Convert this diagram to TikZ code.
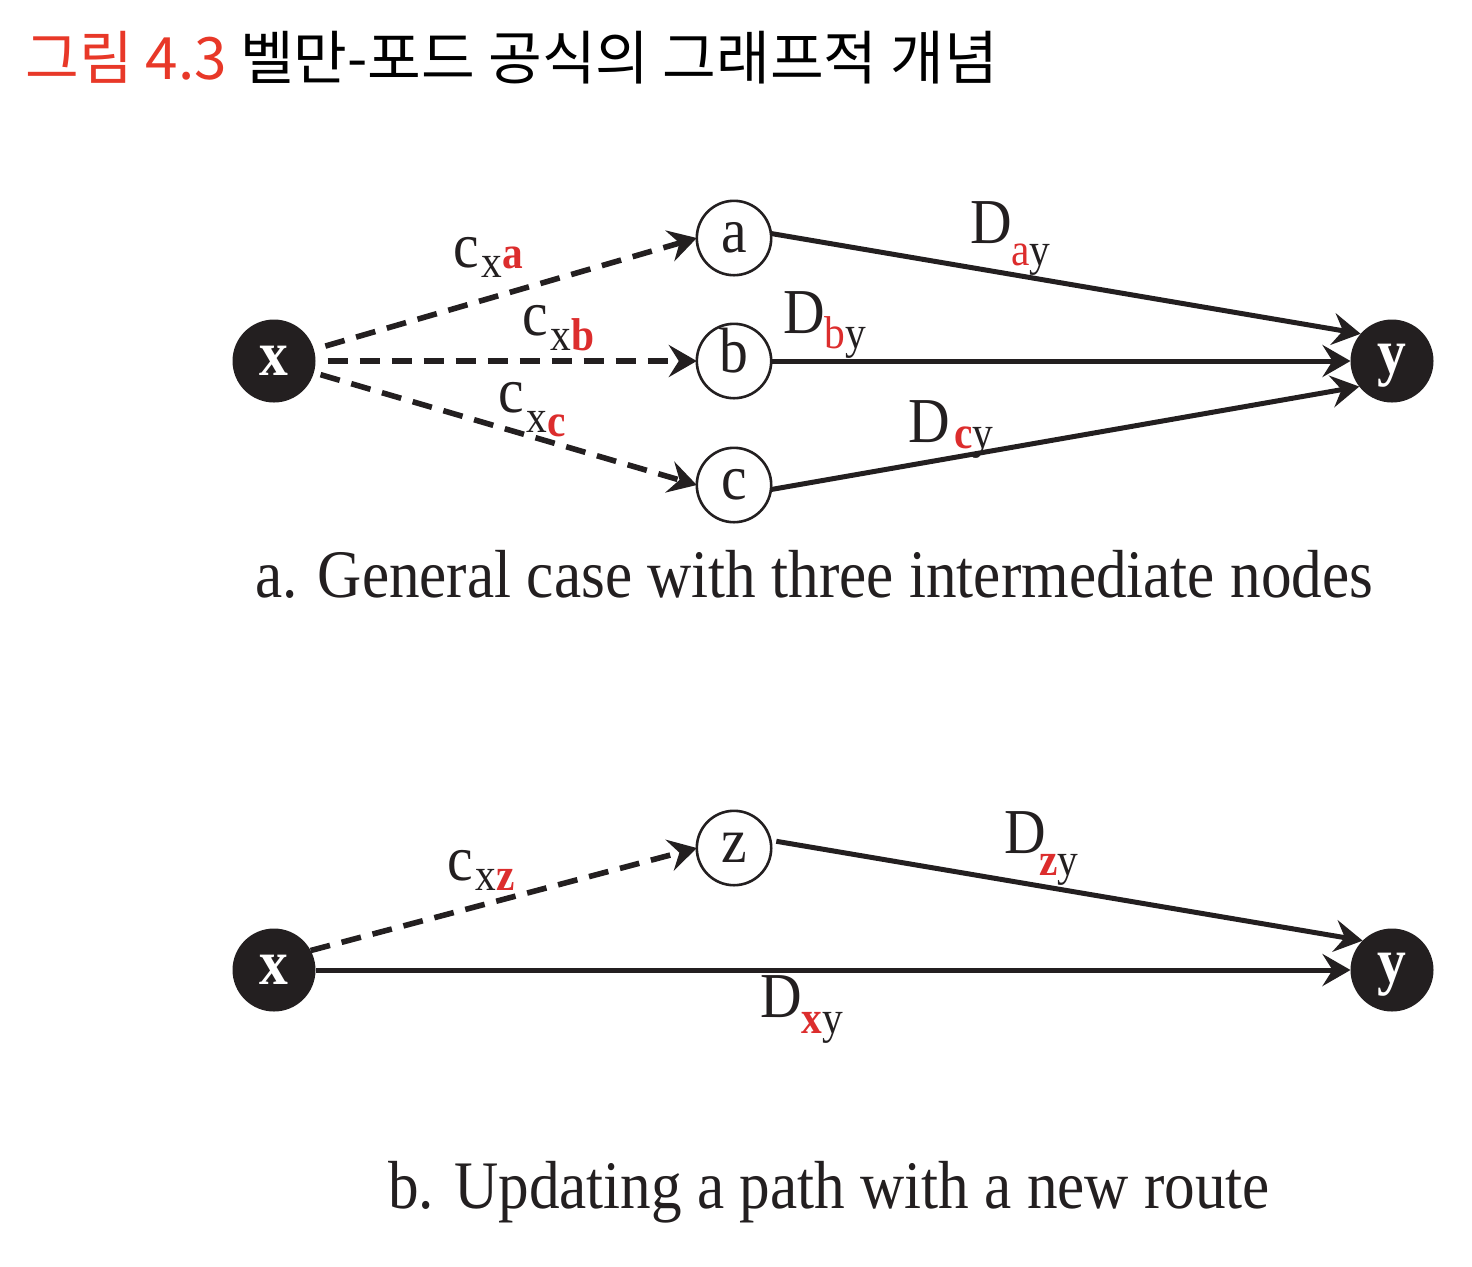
\documentclass[tikz,border=0pt]{standalone}
\usepackage{fontspec}
\setmainfont{Liberation Serif}[FakeStretch=0.9]
\newfontfamily\krfont{Noto Sans CJK KR}
\usetikzlibrary{arrows.meta}
\definecolor{lred}{RGB}{220,45,45}
\definecolor{tred}{RGB}{232,56,40}
\definecolor{ink}{RGB}{35,31,32}
\newcommand{\LabMain}[1]{{\fontsize{32}{32}\selectfont #1}}
\newcommand{\LabSub}[2]{\raisebox{-#1}{\fontsize{23}{23}\selectfont #2}}
\begin{document}
\begin{tikzpicture}[x=0.5pt,y=-0.5pt,
  blk/.style={circle,fill=ink,minimum size=41.5pt,inner sep=0pt,outer sep=0pt,text=white,font=\fontsize{32}{32}\selectfont\bfseries},
  wht/.style={circle,draw=ink,line width=1.3pt,fill=white,minimum size=37.2pt,inner sep=0pt,outer sep=0pt,text=ink,font=\fontsize{32}{32}\selectfont},
  tipA/.style={-{Stealth[length=14pt,width=16pt,inset=5pt]}},
  dedge/.style={draw=ink,line width=2.8pt,dash pattern=on 10pt off 6pt,tipA},
  sedge/.style={draw=ink,line width=2.5pt,tipA},
  lab/.style={anchor=base west,inner sep=0pt,outer sep=0pt,text=ink},
  capt/.style={anchor=base west,inner sep=0pt,outer sep=0pt,text=ink,font=\fontsize{34}{34}\selectfont}]
\useasboundingbox (0,0) rectangle (1472,1266);

% title
\node[anchor=base west,inner sep=0pt] (title) at (25,79)
  {\krfont\fontsize{29.2}{29.2}\selectfont\textcolor{tred}{그림 4.3} 벨만-포드 공식의 그래프적 개념};

% panel a
\node[blk] (x1) at (274,361) {x};
\node[blk,text height=12pt,text depth=0pt] (y1) at (1392,361) {y};
\node[wht] (a) at (734,238) {a};
\node[wht,text height=11pt,text depth=0pt] (b) at (734,361) {b};
\node[wht] (c) at (734,485) {c};

\draw[dedge,shorten <=6pt] (x1) -- (a.west);
\draw[dedge,shorten <=6pt] (x1) -- (b);
\draw[dedge,shorten <=3.5pt] (x1) -- (c.west);
\draw[sedge] (a.7) -- (y1.139);
\draw[sedge] (b) -- (y1);
\draw[sedge] (c.-7) -- (y1.218);

\node[lab] (lxa) at (453,267) {\LabMain{c}\kern1.5pt\LabSub{5pt}{x}\LabSub{0.5pt}{\bfseries\color{lred}a}};
\node[lab] (lxb) at (522,335) {\LabMain{c}\kern1.5pt\LabSub{7.5pt}{x}\LabSub{7.5pt}{\bfseries\color{lred}b}};
\node[lab] (lxc) at (498,412) {\LabMain{c}\kern1.5pt\LabSub{10pt}{x}\LabSub{12pt}{\bfseries\color{lred}c}};
\node[lab] (lay) at (970,243) {\LabMain{D}\LabSub{11pt}{\color{lred}a}\LabSub{11pt}{y}};
\node[lab] (lby) at (783,333) {\LabMain{D}\LabSub{7.5pt}{\color{lred}b}\LabSub{7.5pt}{y}};
\node[lab] (lcy) at (908,442) {\LabMain{D}\kern2.5pt\LabSub{3pt}{\bfseries\color{lred}c}\LabSub{3pt}{y}};

\node[capt] (capa) at (255,597) {a. General case with three intermediate nodes};

% panel b
\node[blk] (x2) at (274,970) {x};
\node[blk,text height=12pt,text depth=0pt] (y2) at (1392,970) {y};
\node[wht] (z) at (734,848) {z};

\draw[dedge] (x2.28) -- (z.west);
\draw[sedge,shorten <=3pt] (z.12) -- (y2.135);
\draw[sedge] (x2) -- (y2);

\node[lab] (lxz) at (447,880) {\LabMain{c}\kern1.5pt\LabSub{5pt}{x}\LabSub{5pt}{\bfseries\color{lred}z}};
\node[lab] (lzy) at (1004,853) {\LabMain{D}\kern-3pt\LabSub{11pt}{\bfseries\color{lred}z}\LabSub{11pt}{y}};
\node[lab] (lxy) at (760,1017) {\LabMain{D}\LabSub{8pt}{\bfseries\color{lred}x}\LabSub{8pt}{y}};

\node[capt] (capb) at (388,1208) {b. Updating a path with a new route};
\end{tikzpicture}
\end{document}
